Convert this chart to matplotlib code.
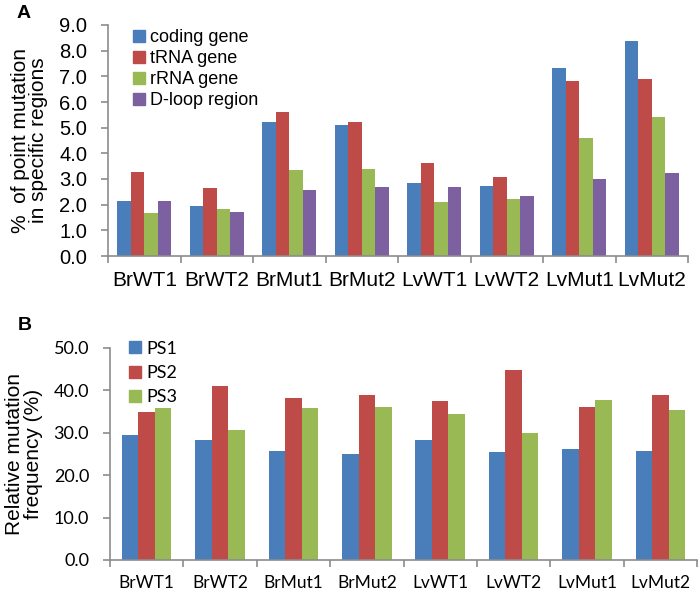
import numpy as np
import matplotlib.pyplot as plt
from matplotlib.lines import Line2D

samples = ["BrWT1", "BrWT2", "BrMut1", "BrMut2", "LvWT1", "LvWT2", "LvMut1", "LvMut2"]

# panel A: % of point mutation in specific regions
region_names = ["coding gene", "tRNA gene", "rRNA gene", "D-loop region"]
coding = [2.15, 1.94, 5.22, 5.09, 2.83, 2.73, 7.34, 8.39]
trna = [3.27, 2.66, 5.62, 5.21, 3.61, 3.08, 6.83, 6.88]
rrna = [1.66, 1.82, 3.35, 3.38, 2.09, 2.23, 4.61, 5.40]
dloop = [2.13, 1.72, 2.57, 2.68, 2.68, 2.35, 2.99, 3.22]

# panel B: relative mutation frequency (%)
ps_names = ["PS1", "PS2", "PS3"]
ps1 = [29.4, 28.3, 25.8, 25.0, 28.3, 25.4, 26.2, 25.6]
ps2 = [35.0, 41.1, 38.2, 38.9, 37.4, 44.7, 36.1, 38.9]
ps3 = [35.9, 30.6, 35.9, 36.1, 34.4, 30.0, 37.8, 35.3]

colors = ["#4A7EBB", "#BE4B48", "#98B954", "#7D60A0"]
spine_c = "#8C8C8C"

W, H = 700, 593
fig = plt.figure(figsize=(W / 100, H / 100), dpi=100)


def px_axes(left, top, right, bottom):
    return fig.add_axes([left / W, 1 - bottom / H, (right - left) / W, (bottom - top) / H])


def style_axes(ax, n, xpad, ypad):
    for s in ["top", "right"]:
        ax.spines[s].set_visible(False)
    for s in ["left", "bottom"]:
        ax.spines[s].set_color(spine_c)
        ax.spines[s].set_linewidth(1.2)
    ax.set_xlim(-0.5, n - 0.5)
    ax.set_xticks(np.arange(n + 1) - 0.5, minor=True)
    ax.set_xticks(np.arange(n))
    ax.tick_params(axis="x", which="major", length=0, pad=xpad)
    ax.tick_params(axis="x", which="minor", length=5, color=spine_c, width=1.2, direction="out")
    ax.tick_params(axis="y", length=5, color=spine_c, width=1.2, direction="out", pad=ypad)


x = np.arange(len(samples))

# ---- panel A ----
axA = px_axes(108, 25, 688, 256)
seriesA = [coding, trna, rrna, dloop]
w = 0.185
for i, vals in enumerate(seriesA):
    axA.bar(x + (i - 1.5) * w, vals, width=w, color=colors[i], edgecolor="none")
style_axes(axA, len(samples), 11, 10)
axA.set_ylim(0, 9)
axA.set_yticks(np.arange(0, 9.1, 1.0))
axA.set_yticklabels([f"{v:.1f}" for v in np.arange(0, 9.1, 1.0)], fontsize=14.5, family="Liberation Sans")
axA.set_xticklabels(samples, fontsize=15, family="Liberation Sans")
axA.set_ylabel("%  of point mutation\nin specific regions", fontsize=15, family="Liberation Sans",
               linespacing=0.95, labelpad=8)
handlesA = [Line2D([], [], marker="s", linestyle="none", markersize=8, color=c) for c in colors]
axA.legend(handlesA, region_names, loc="upper left", bbox_to_anchor=(0.026, 1.013), frameon=False,
           prop={"family": "Liberation Sans", "size": 13}, handletextpad=0.1, labelspacing=0.22,
           handlelength=1.0, borderaxespad=0)
fig.text(17 / W, 1 - 14 / H, "A", fontsize=14, fontweight="bold", family="Liberation Sans",
         ha="left", va="center")

# ---- panel B ----
axB = px_axes(110, 348, 697, 560)
seriesB = [ps1, ps2, ps3]
wb = 0.225
for i, vals in enumerate(seriesB):
    axB.bar(x + (i - 1) * wb, vals, width=wb, color=colors[i], edgecolor="none")
style_axes(axB, len(samples), 11, 10)
axB.set_ylim(0, 50)
axB.set_yticks(np.arange(0, 51, 10))
axB.set_yticklabels([f"{v:.1f}" for v in np.arange(0, 51, 10)], fontsize=13, family="Lato")
axB.set_xticklabels(samples, fontsize=12.5, family="Lato")
axB.set_ylabel("Relative mutation\nfrequency (%)", fontsize=15, family="Liberation Sans",
               linespacing=0.95, labelpad=8)
handlesB = [Line2D([], [], marker="s", linestyle="none", markersize=8, color=c) for c in colors[:3]]
axB.legend(handlesB, ps_names, loc="upper left", bbox_to_anchor=(0.015, 1.068), frameon=False,
           prop={"family": "Lato", "size": 13}, handletextpad=0.1, labelspacing=0.45,
           handlelength=1.0, borderaxespad=0)
fig.text(18 / W, 1 - 325 / H, "B", fontsize=14, fontweight="bold", family="Liberation Sans",
         ha="left", va="center")

fig.savefig("out.png", dpi=100)
